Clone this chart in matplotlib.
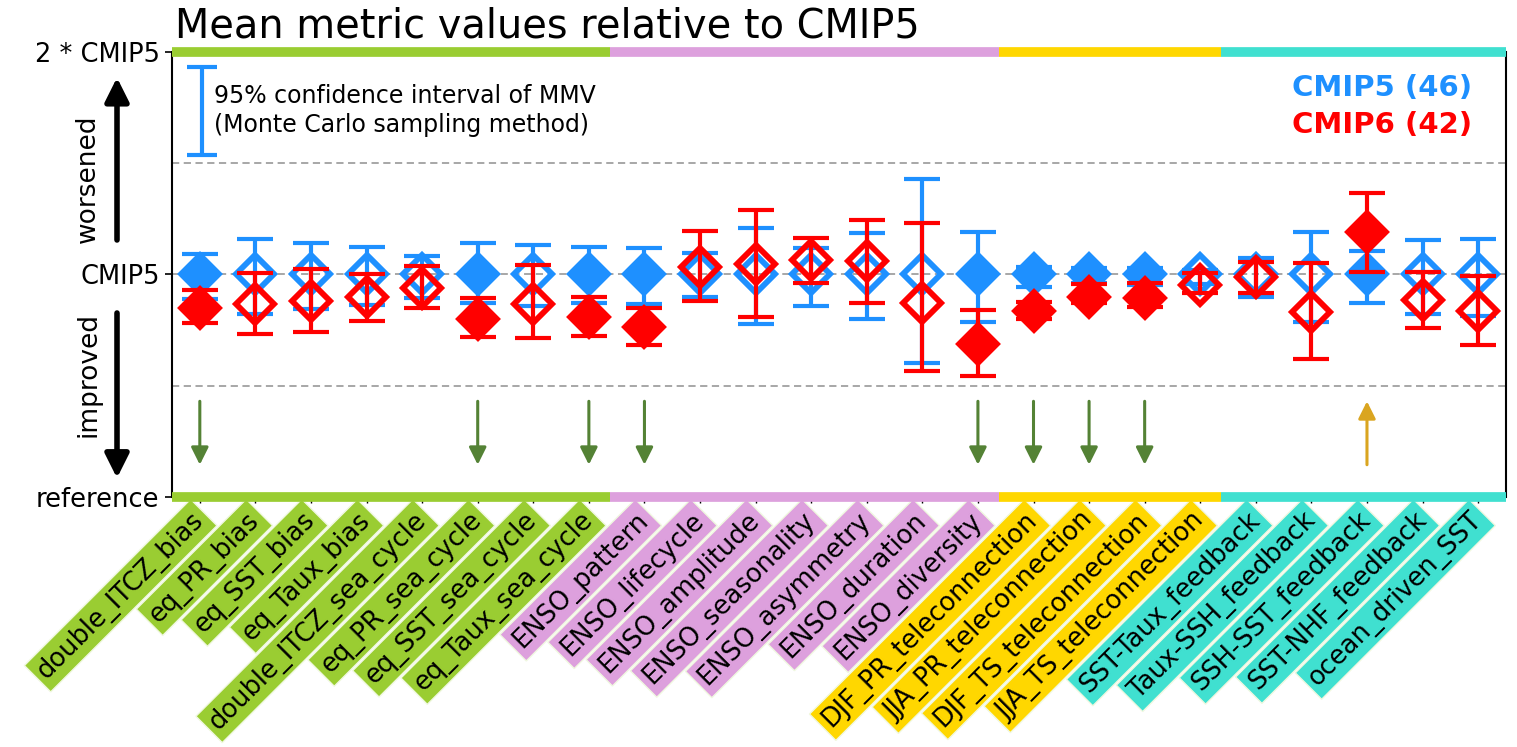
import matplotlib
matplotlib.use("Agg")
import matplotlib.pyplot as plt
import matplotlib.transforms as mtransforms
import numpy as np

# ---- data -------------------------------------------------------------
metrics = [
    "double_ITCZ_bias", "eq_PR_bias", "eq_SST_bias", "eq_Taux_bias",
    "double_ITCZ_sea_cycle", "eq_PR_sea_cycle", "eq_SST_sea_cycle", "eq_Taux_sea_cycle",
    "ENSO_pattern", "ENSO_lifecycle", "ENSO_amplitude", "ENSO_seasonality",
    "ENSO_asymmetry", "ENSO_duration", "ENSO_diversity",
    "DJF_PR_teleconnection", "JJA_PR_teleconnection", "DJF_TS_teleconnection",
    "JJA_TS_teleconnection",
    "SST-Taux_feedback", "Taux-SSH_feedback", "SSH-SST_feedback",
    "SST-NHF_feedback", "ocean_driven_SST",
]
group_sizes = [8, 7, 4, 5]
group_colors = ["#9ACD32", "#DDA0DD", "#FFD700", "#40E0D0"]

# CMIP5 mean metric values (normalised by CMIP5) and 95% confidence bounds
cmip5_mean = [1.0] * 24
cmip5_low = [0.891, 0.822, 0.845, 0.861, 0.893, 0.873, 0.858, 0.873,
             0.867, 0.900, 0.776, 0.858, 0.800, 0.604, 0.785,
             0.945, 0.960, 0.953, 0.957,
             0.897, 0.785, 0.870, 0.822, 0.813]
cmip5_high = [1.092, 1.160, 1.143, 1.125, 1.083, 1.143, 1.133, 1.122,
              1.121, 1.095, 1.210, 1.118, 1.185, 1.429, 1.190,
              1.032, 1.028, 1.028, 1.020,
              1.073, 1.193, 1.107, 1.155, 1.160]

# CMIP6 mean metric values relative to CMIP5 and 95% confidence bounds
cmip6_mean = [0.850, 0.867, 0.881, 0.900, 0.941, 0.800, 0.867, 0.810,
              0.766, 1.035, 1.046, 1.065, 1.061, 0.870, 0.686,
              0.836, 0.900, 0.893, 0.953,
              0.987, 0.833, 1.193, 0.885, 0.837]
cmip6_low = [0.781, 0.733, 0.740, 0.793, 0.848, 0.721, 0.716, 0.725,
             0.683, 0.881, 0.810, 0.963, 0.870, 0.566, 0.544,
             0.799, 0.870, 0.855, 0.915,
             0.918, 0.620, 1.010, 0.758, 0.683]
cmip6_high = [0.930, 1.008, 1.025, 1.002, 1.038, 0.893, 1.043, 0.897,
              0.848, 1.196, 1.290, 1.163, 1.245, 1.233, 0.840,
              0.878, 0.957, 0.960, 1.005,
              1.058, 1.053, 1.368, 1.013, 0.995]

# 1 = difference between CMIP6 and CMIP5 is significant
significant = [1, 0, 0, 0, 0, 1, 0, 1,
               1, 0, 0, 0, 0, 0, 1,
               1, 1, 1, 0,
               0, 0, 1, 0, 0]

y_ticks = [0, 1, 2]
y_ticklabels = ["reference", "CMIP5", "2 * CMIP5"]

# ---- style ------------------------------------------------------------
BLUE = "#1E90FF"
RED = "#FF0000"
ARROW_GREEN = "#548235"
ARROW_ORANGE = "#DAA520"
FS = 17

fig = plt.figure(figsize=(15.17, 7.47), dpi=100)
ax = fig.add_axes([0.1134, 0.3347, 0.9927 - 0.1134, 0.9304 - 0.3347])

n = len(metrics)
x = np.arange(n)
ax.set_xlim(-0.5, n - 0.5)
ax.set_ylim(0, 2)

# reference dashed lines
for yv in (0.5, 1.0, 1.5):
    ax.axhline(yv, color="#A0A0A0", lw=1.3, ls=(0, (4, 2.5)), zorder=0)


def draw_series(means, lows, highs, color, z):
    means = np.asarray(means)
    err = np.vstack([means - np.asarray(lows), np.asarray(highs) - means])
    ax.errorbar(x, means, yerr=err, fmt="none", ecolor=color, elinewidth=3,
                capsize=13, capthick=3, zorder=z)
    for xi, m, s in zip(x, means, significant):
        ax.plot(xi, m, marker="D", ms=20 if s else 19,
                mfc=color if s else "none", mec=color, mew=3 if s else 4.2,
                ls="none", zorder=z + 0.5)


draw_series(cmip5_mean, cmip5_low, cmip5_high, BLUE, 3)
draw_series(cmip6_mean, cmip6_low, cmip6_high, RED, 4)

# arrows flagging significant changes
for xi, s, m in zip(x, significant, cmip6_mean):
    if not s:
        continue
    if m < 1:
        ax.annotate("", xy=(xi, 0.145), xytext=(xi, 0.43),
                    arrowprops=dict(arrowstyle="-|>", color=ARROW_GREEN,
                                    lw=2.2, mutation_scale=26,
                                    shrinkA=0, shrinkB=0))
    else:
        ax.annotate("", xy=(xi, 0.43), xytext=(xi, 0.145),
                    arrowprops=dict(arrowstyle="-|>", color=ARROW_ORANGE,
                                    lw=2.2, mutation_scale=26,
                                    shrinkA=0, shrinkB=0))

# coloured group bars on the top and bottom frame
bounds = np.concatenate([[-0.5], np.cumsum(group_sizes) - 0.62])
bounds[-1] = n - 0.5
for (a, b), c in zip(zip(bounds[:-1], bounds[1:]), group_colors):
    for yv in (0, 2):
        ax.plot([a, b], [yv, yv], color=c, lw=7, solid_capstyle="butt",
                clip_on=False, zorder=6)

for side in ("top", "bottom"):
    ax.spines[side].set_visible(False)
for side in ("left", "right"):
    ax.spines[side].set_linewidth(1.5)

# axes ticks
ax.set_yticks(y_ticks)
ax.set_yticklabels(y_ticklabels, fontsize=18.5)
ax.tick_params(axis="y", length=5, width=1.2, pad=4)
ax.set_xticks(x)
ax.set_xticklabels(metrics, rotation=45, ha="right", va="center",
                   rotation_mode="anchor", fontsize=18.5)
ax.tick_params(axis="x", length=4, width=1.0, pad=10)
group_of = np.repeat(np.arange(len(group_sizes)), group_sizes)
for lab, g in zip(ax.get_xticklabels(), group_of):
    lab.set_bbox(dict(boxstyle="square,pad=0.22", fc=group_colors[g],
                      ec="#F0F8E0", lw=1.0))

# confidence interval key
ax.errorbar([0.04], [1.735], yerr=[[0.198], [0.198]], fmt="none",
            ecolor=BLUE, elinewidth=3, capsize=11, capthick=3, zorder=5)
ax.text(0.25, 1.737, "95% confidence interval of MMV\n(Monte Carlo sampling method)",
        fontsize=FS, va="center", ha="left", linespacing=1.3)

# ensemble labels
ax.text(22.9, 1.84, "CMIP5 (46)", color=BLUE, fontsize=21,
        fontweight="bold", ha="right", va="center")
ax.text(22.9, 1.672, "CMIP6 (42)", color=RED, fontsize=21,
        fontweight="bold", ha="right", va="center")

# worsened / improved side arrows
tr = mtransforms.blended_transform_factory(fig.transFigure, ax.transData)
xa = 117 / 1517
ax.annotate("", xy=(xa, 1.885), xytext=(xa, 1.155), xycoords=tr,
            textcoords=tr, annotation_clip=False,
            arrowprops=dict(arrowstyle="-|>", color="black", lw=4,
                            mutation_scale=36, shrinkA=0, shrinkB=0))
ax.annotate("", xy=(xa, 0.085), xytext=(xa, 0.827), xycoords=tr,
            textcoords=tr, annotation_clip=False,
            arrowprops=dict(arrowstyle="-|>", color="black", lw=4,
                            mutation_scale=36, shrinkA=0, shrinkB=0))
ax.text(88 / 1517, 1.43, "worsened", transform=tr, rotation=90,
        fontsize=19, ha="center", va="center")
ax.text(88 / 1517, 0.55, "improved", transform=tr, rotation=90,
        fontsize=19, ha="center", va="center")

fig.text(175 / 1517, 1 - 38 / 747, "Mean metric values relative to CMIP5",
         fontsize=28.7, ha="left", va="baseline")

fig.savefig("out.png", dpi=100)
